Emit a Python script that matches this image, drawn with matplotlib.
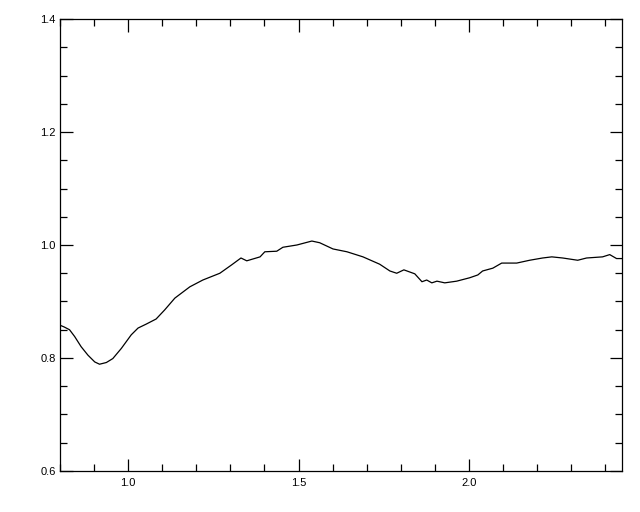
import matplotlib
matplotlib.use("Agg")
import matplotlib.pyplot as plt
from matplotlib.ticker import MultipleLocator, FixedLocator

x = [0.800, 0.812, 0.828, 0.843, 0.862, 0.882, 0.902, 0.916, 0.936, 0.955,
     0.980, 1.009, 1.029, 1.053, 1.082, 1.107, 1.137, 1.181, 1.219, 1.269,
     1.304, 1.331, 1.348, 1.387, 1.401, 1.436, 1.454, 1.495, 1.539, 1.562,
     1.601, 1.642, 1.689, 1.738, 1.768, 1.788, 1.809, 1.841, 1.862, 1.876,
     1.891, 1.906, 1.929, 1.964, 2.002, 2.026, 2.040, 2.070, 2.096, 2.140,
     2.178, 2.216, 2.243, 2.275, 2.319, 2.345, 2.392, 2.413, 2.433, 2.449]
y = [0.858, 0.855, 0.850, 0.838, 0.820, 0.805, 0.793, 0.789, 0.792, 0.799,
     0.817, 0.841, 0.853, 0.860, 0.869, 0.885, 0.906, 0.926, 0.938, 0.950,
     0.965, 0.977, 0.972, 0.979, 0.988, 0.989, 0.996, 1.000, 1.007, 1.004,
     0.993, 0.988, 0.979, 0.966, 0.954, 0.950, 0.956, 0.949, 0.935, 0.938,
     0.933, 0.936, 0.933, 0.936, 0.942, 0.947, 0.954, 0.959, 0.968, 0.968,
     0.973, 0.977, 0.979, 0.977, 0.973, 0.977, 0.979, 0.983, 0.976, 0.976]

xticks = [1.0, 1.5, 2.0]
xticklabels = ["1.0", "1.5", "2.0"]
yticks = [0.6, 0.8, 1.0, 1.2, 1.4]
yticklabels = ["0.6", "0.8", "1.0", "1.2", "1.4"]

plt.rcParams['font.family'] = ['Liberation Sans', 'DejaVu Sans']
fig = plt.figure(figsize=(6.4, 5.12), dpi=100)
ax = fig.add_axes([60/640, 41/512, 562/640, 452/512])
ax.plot(x, y, color='black', linewidth=0.9)
ax.set_xlim(0.8, 2.449)
ax.set_ylim(0.6, 1.4)
ax.xaxis.set_major_locator(FixedLocator(xticks))
ax.set_xticklabels(xticklabels)
ax.yaxis.set_major_locator(FixedLocator(yticks))
ax.set_yticklabels(yticklabels)
ax.xaxis.set_minor_locator(MultipleLocator(0.1))
ax.yaxis.set_minor_locator(MultipleLocator(0.05))
ax.tick_params(which='both', direction='in', top=True, right=True,
               labelsize=8, width=0.9, pad=5, colors='black')
ax.tick_params(which='major', length=9)
ax.tick_params(which='minor', length=5)
ax.tick_params(axis='y', which='major', pad=3)
for s in ax.spines.values():
    s.set_linewidth(0.9)
fig.savefig("out.png", dpi=100)
